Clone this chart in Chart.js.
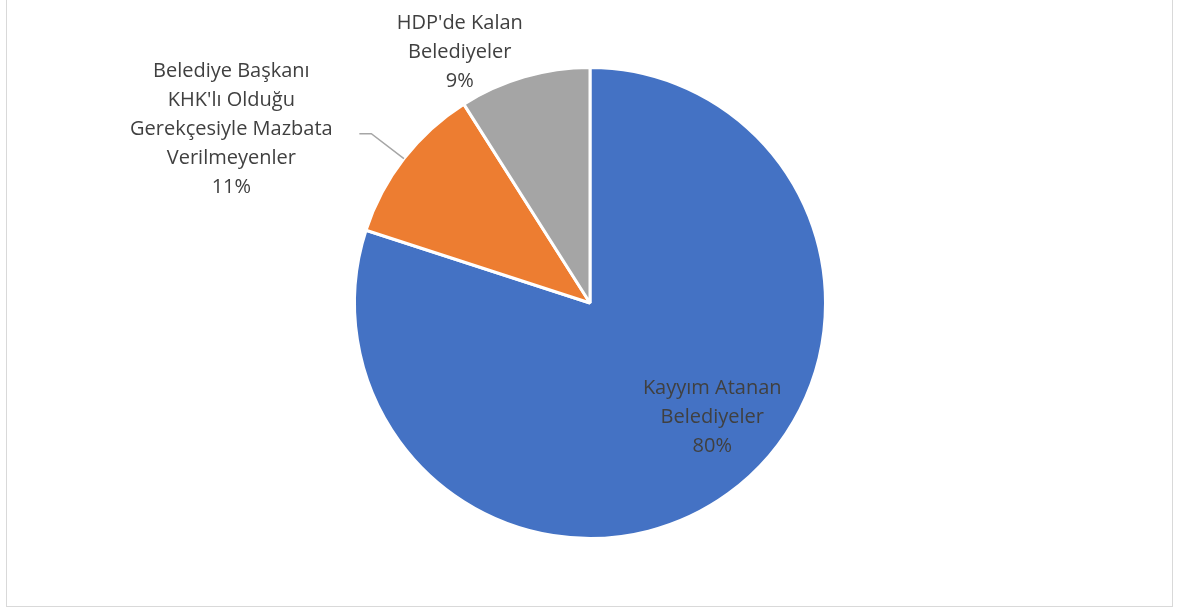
<!DOCTYPE html>
<html>
<head>
<meta charset="utf-8">
<script src="https://cdn.jsdelivr.net/npm/chart.js@4"></script>
<style>
    html, body { margin: 0; padding: 0; background: #fff; }
    #wrap { position: relative; width: 1177px; height: 610px; overflow: hidden; }
    #frame { position: absolute; left: 6px; top: -4px; width: 1167px; height: 611px; border: 1px solid #d9d9d9; box-sizing: border-box; }
    canvas { position: absolute; left: 0; top: 0; }
</style>
</head>
<body>
<div id="wrap">
    <div id="frame"></div>
    <canvas id="pieChart" width="1177" height="610"></canvas>
</div>
<script>
const categories = ["Kayyım Atanan Belediyeler", "Belediye Başkanı KHK'lı Olduğu Gerekçesiyle Mazbata Verilmeyenler", "HDP'de Kalan Belediyeler"];
const values = [80, 11, 9];
const percentLabels = ["80%", "11%", "9%"];
const labelLines = [
    ["Kayyım Atanan", "Belediyeler"],
    ["Belediye Başkanı", "KHK'lı Olduğu", "Gerekçesiyle Mazbata", "Verilmeyenler"],
    ["HDP'de Kalan", "Belediyeler"]
];
const colors = ["#4472C4", "#ED7D31", "#A5A5A5"];

// label centres, as fractions of the radius from the pie centre
const labelOffsets = [[0.519, 0.485], [-1.523, -0.736], [-0.553, -1.064]];

const dataLabels = {
    id: "dataLabels",
    afterDatasetsDraw(chart) {
        const ctx = chart.ctx;
        const arcs = chart.getDatasetMeta(0).data;
        ctx.save();
        ctx.font = "20px 'Open Sans'";
        ctx.fillStyle = "#404040";
        ctx.textAlign = "center";
        ctx.textBaseline = "middle";
        const lineH = 29;
        arcs.forEach((arc, i) => {
            const r = arc.outerRadius;
            const cx = arc.x + labelOffsets[i][0] * r;
            const cy = arc.y + labelOffsets[i][1] * r;
            const lines = labelLines[i].concat([percentLabels[i]]);
            const top = cy - (lines.length - 1) * lineH / 2;
            lines.forEach((t, k) => ctx.fillText(t, cx, top + k * lineH));

            // leader line for the orange slice
            if (i === 1) {
                const mid = (arc.startAngle + arc.endAngle) / 2;
                const ex = arc.x + Math.cos(mid) * r;
                const ey = arc.y + Math.sin(mid) * r;
                const ly = top + 2 * lineH + 4;
                const lx = cx + 128;
                ctx.strokeStyle = "#a6a6a6";
                ctx.lineWidth = 1.5;
                ctx.beginPath();
                ctx.moveTo(ex, ey);
                ctx.lineTo(lx + 12, ly);
                ctx.lineTo(lx, ly);
                ctx.stroke();
            }
        });
        ctx.restore();
    }
};

new Chart(document.getElementById("pieChart").getContext("2d"), {
    type: "pie",
    data: {
        labels: categories,
        datasets: [{
            data: values,
            backgroundColor: colors,
            borderColor: "#ffffff",
            borderWidth: 3
        }]
    },
    options: {
        responsive: false,
        animation: false,
        layout: { padding: { top: 66, bottom: 70, left: 100, right: 97 } },
        plugins: {
            legend: { display: false },
            tooltip: { enabled: false }
        }
    },
    plugins: [dataLabels]
});
</script>
</body>
</html>
